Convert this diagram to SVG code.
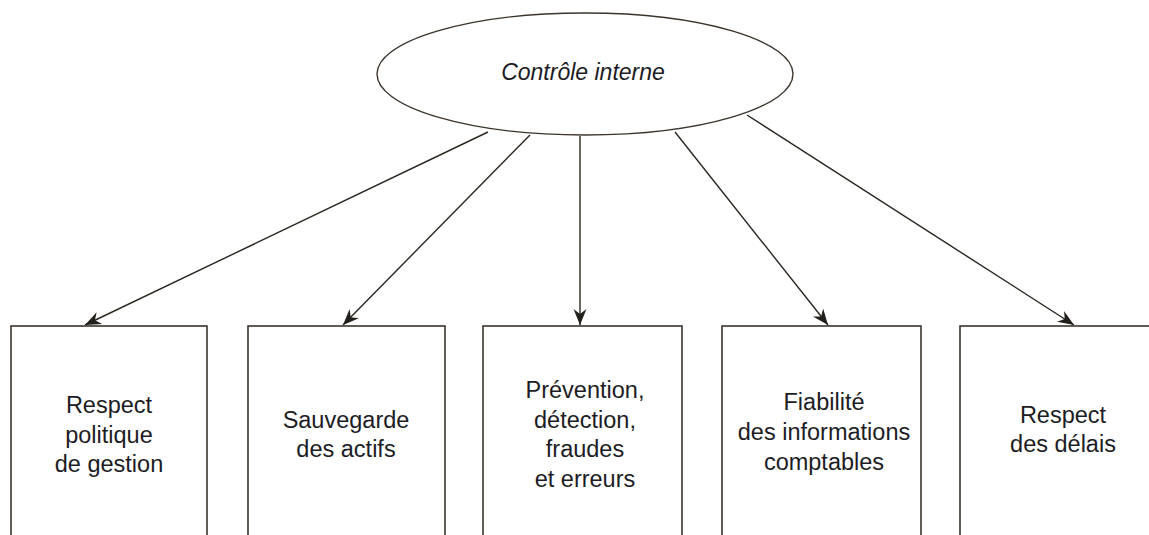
<svg xmlns="http://www.w3.org/2000/svg" width="1149" height="535" viewBox="0 0 1149 535">
  <defs>
    <marker id="arr" markerUnits="userSpaceOnUse" markerWidth="20" markerHeight="16" viewBox="-16 -8 18 16" refX="0" refY="0" orient="auto">
      <path d="M0,0 L-16,-6.5 L-11,0 L-16,6.5 Z" fill="#231f1a"/>
    </marker>
    <style>
      .box { fill: #ffffff; stroke: #3a342c; stroke-width: 1.6; }
      .ell { fill: #ffffff; stroke: #3a342c; stroke-width: 1.4; }
      .lbl { font-family: "Liberation Sans", Arial, sans-serif; font-size: 23.5px; fill: #1c1c24; text-anchor: middle; }
      .title { font-family: "Liberation Sans", Arial, sans-serif; font-size: 23px; font-style: italic; fill: #1c1c24; text-anchor: middle; }
      .conn { stroke: #2a251f; stroke-width: 1.4; fill: none; marker-end: url(#arr); }
    </style>
  </defs>
  <rect width="1149" height="535" fill="#ffffff"/>

  <g id="connectors">
    <line class="conn" x1="488" y1="132" x2="85" y2="325"/>
    <line class="conn" x1="530" y1="135" x2="343" y2="325"/>
    <line class="conn" x1="580" y1="136" x2="580" y2="325"/>
    <line class="conn" x1="675" y1="132" x2="828" y2="325"/>
    <line class="conn" x1="747" y1="115" x2="1074" y2="325"/>
  </g>

  <g id="controle-interne">
    <ellipse class="ell" cx="585" cy="74" rx="208" ry="61"/>
    <text class="title" x="583" y="80">Contrôle interne</text>
  </g>

  <g id="respect-politique">
    <rect class="box" x="11" y="326" width="196" height="220"/>
    <text class="lbl" x="109" y="413">Respect</text>
    <text class="lbl" x="109" y="443">politique</text>
    <text class="lbl" x="109" y="472">de gestion</text>
  </g>

  <g id="sauvegarde">
    <rect class="box" x="248" y="326" width="197" height="220"/>
    <text class="lbl" x="346" y="428">Sauvegarde</text>
    <text class="lbl" x="346" y="457">des actifs</text>
  </g>

  <g id="prevention">
    <rect class="box" x="483" y="326" width="199" height="220"/>
    <text class="lbl" x="585" y="398">Prévention,</text>
    <text class="lbl" x="585" y="428">détection,</text>
    <text class="lbl" x="585" y="457">fraudes</text>
    <text class="lbl" x="585" y="487">et erreurs</text>
  </g>

  <g id="fiabilite">
    <rect class="box" x="722" y="326" width="199" height="220"/>
    <text class="lbl" x="824" y="410">Fiabilité</text>
    <text class="lbl" x="824" y="440">des informations</text>
    <text class="lbl" x="824" y="470">comptables</text>
  </g>

  <g id="respect-delais">
    <rect class="box" x="960" y="326" width="199" height="220"/>
    <text class="lbl" x="1063" y="423">Respect</text>
    <text class="lbl" x="1063" y="452">des délais</text>
  </g>
</svg>
